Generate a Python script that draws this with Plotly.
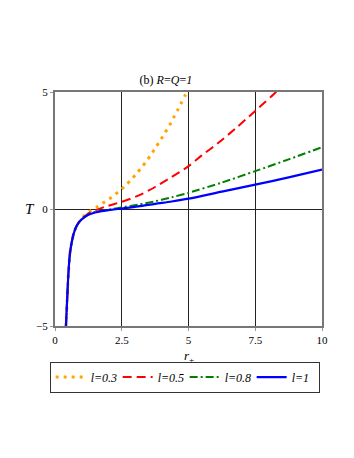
import plotly.graph_objects as go

# valeurs (b) R=Q=1
r_small = [0.41, 0.45, 0.5, 0.56, 0.63, 0.7, 0.8, 0.9, 1.0]
T_small = [-5.0, -4.0, -2.8, -1.9, -1.4, -1.05, -0.75, -0.56, -0.44]

r_l03 = [1.1, 1.34, 1.6, 1.86, 2.12, 2.37, 2.61, 2.84, 3.04, 3.24, 3.44, 3.62,
         3.79, 3.96, 4.12, 4.29, 4.44, 4.59, 4.72, 4.875, 4.94]
T_l03 = [-0.27, -0.07, 0.11, 0.30, 0.50, 0.73, 0.97, 1.23, 1.50, 1.77, 2.07, 2.36,
         2.66, 2.96, 3.26, 3.58, 3.90, 4.22, 4.51, 4.86, 5.0]

r_l05 = [1.25, 1.5, 1.86, 2.5, 3.12, 3.75, 4.37, 5.0, 5.5, 6.12, 6.75, 7.5, 8.25, 8.3]
T_l05 = [-0.19, -0.06, 0.09, 0.31, 0.57, 0.94, 1.37, 1.83, 2.29, 2.83, 3.43, 4.19, 4.97, 5.03]

r_l08 = [1.25, 1.5, 1.75, 2.0, 2.5, 3.12, 3.75, 4.37, 5.0, 6.25, 7.5, 8.75, 10.0]
T_l08 = [-0.23, -0.13, -0.07, -0.03, 0.07, 0.19, 0.33, 0.50, 0.69, 1.13, 1.62, 2.12, 2.64]

r_l1 = [1.25, 1.5, 1.75, 2.0, 2.5, 3.12, 3.75, 4.37, 5.0, 6.25, 7.5, 8.75, 10.0]
T_l1 = [-0.25, -0.15, -0.09, -0.05, 0.02, 0.11, 0.22, 0.32, 0.44, 0.74, 1.04, 1.35, 1.68]

x_ticks = [0, 2.5, 5, 7.5, 10]
y_ticks = [-5, 0, 5]

series = [
    ("<i>l=0.3</i>", r_l03, T_l03, "orange", "3px,5px", 3),
    ("<i>l=0.5</i>", r_l05, T_l05, "red", "9px,5px", 2),
    ("<i>l=0.8</i>", r_l08, T_l08, "green", "8px,3px,2px,3px", 2),
    ("<i>l=1</i>", r_l1, T_l1, "blue", "solid", 2.2),
]

fig = go.Figure()
for nom, r, T, couleur, tiret, lw in series:
    fig.add_trace(go.Scatter(
        x=r_small + r, y=T_small + T, name=nom, mode="lines",
        line=dict(color=couleur, dash=tiret, width=lw, shape="spline", smoothing=0.8),
    ))

police = "Liberation Serif, Times New Roman, serif"

# la page ajoute 8 px de marge autour du graphique
fig.update_layout(
    width=354, height=458,
    margin=dict(l=47, r=40, t=84, b=140),
    paper_bgcolor="white", plot_bgcolor="white",
    font=dict(family=police, size=11, color="black"),
    title=dict(text="(b) <i>R</i>=<i>Q</i>=<i>1</i>", x=0.446, xanchor="center",
               y=1 - 72 / 458, yanchor="middle", font=dict(size=12)),
    showlegend=True,
    legend=dict(orientation="h", x=-0.02, xanchor="left", y=-0.152, yanchor="top",
                bordercolor="#333", borderwidth=1, itemwidth=30,
                entrywidth=22, entrywidthmode="pixels",
                font=dict(size=12), tracegroupgap=0),
    annotations=[
        dict(text="<i>T</i>", xref="paper", yref="paper", x=-0.095, y=0.5,
             xanchor="center", yanchor="middle", showarrow=False, font=dict(size=15)),
        dict(text="<i>r</i><sub>+</sub>", xref="paper", yref="paper", x=0.5, y=-0.085,
             xanchor="center", yanchor="top", showarrow=False, font=dict(size=13)),
    ],
)
fig.update_xaxes(range=[0, 10], tickvals=x_ticks, ticktext=["0", "2.5", "5", "7.5", "10"],
                 showgrid=True, gridcolor="#222", gridwidth=1, zeroline=False,
                 showline=True, mirror=True, linecolor="#777", linewidth=2,
                 ticks="outside", ticklen=3, tickcolor="#999")
fig.update_yaxes(range=[-5, 5], tickvals=y_ticks, ticktext=["\u22125", "0", "5"],
                 showgrid=True, gridcolor="#222", gridwidth=1, zeroline=False,
                 showline=True, mirror=True, linecolor="#777", linewidth=2,
                 ticks="outside", ticklen=3, tickcolor="#999")

fig.write_html("out.html")
